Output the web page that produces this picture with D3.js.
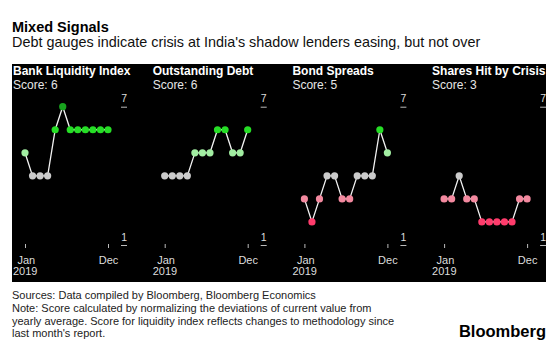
<!DOCTYPE html>
<html>
<head>
<meta charset="utf-8">
<script src="https://cdn.jsdelivr.net/npm/d3@7"></script>
<style>
  body { margin: 0; background: #fff; }
  svg text { font-family: "Liberation Sans", Arial, Helvetica, sans-serif; }
</style>
</head>
<body>
<svg id="chart" width="560" height="351"></svg>
<script>
// Data
const months = ["Jan", "Feb", "Mar", "Apr", "May", "Jun", "Jul", "Aug", "Sep", "Oct", "Nov", "Dec"];
const panelTitles = ["Bank Liquidity Index", "Outstanding Debt", "Bond Spreads", "Shares Hit by Crisis"];
const scores = [6, 6, 5, 3];
const bankLiquidity = [5, 4, 4, 4, 6, 7, 6, 6, 6, 6, 6, 6];
const outstandingDebt = [4, 4, 4, 4, 5, 5, 5, 6, 6, 5, 5, 6];
const bondSpreads = [3, 2, 3, 4, 4, 3, 3, 4, 4, 4, 6, 5];
const sharesHit = [3, 3, 4, 3, 3, 2, 2, 2, 2, 2, 3, 3];
const yTicks = [1, 7];
const xTickYear = "2019";

const series = [bankLiquidity, outstandingDebt, bondSpreads, sharesHit];

const title = "Mixed Signals";
const subtitle = "Debt gauges indicate crisis at India's shadow lenders easing, but not over";
const footnotes = [
    "Sources: Data compiled by Bloomberg, Bloomberg Economics",
    "Note: Score calculated by normalizing the deviations of current value from",
    "yearly average. Score for liquidity index reflects changes to methodology since",
    "last month's report."
];

// Colour per score level
const scoreColor = d3.scaleOrdinal()
    .domain([1, 2, 3, 4, 5, 6, 7])
    .range(["#d1103f", "#ff3c6c", "#f3899f", "#cbcbcb", "#a2eea2", "#26de26", "#18a31e"]);

const svg = d3.select('#chart');

// Header
svg.append('text')
    .attr('x', 12).attr('y', 32)
    .attr('font-size', 14.5).attr('font-weight', 'bold')
    .attr('fill', '#000')
    .text(title);

svg.append('text')
    .attr('x', 12).attr('y', 47)
    .attr('font-size', 14.4)
    .attr('fill', '#111')
    .text(subtitle);

// Black panel background
svg.append('rect')
    .attr('x', 12).attr('y', 64)
    .attr('width', 534).attr('height', 218)
    .attr('fill', '#000');

// Scales
const panelStep = 139.7;
const x = d3.scaleLinear().domain([0, months.length - 1]).range([12, 95]);
const y = d3.scaleLinear().domain([1, 7]).range([245, 106.7]);

const line = d3.line()
    .x((d, i) => x(i))
    .y(d => y(d));

series.forEach((values, p) => {
    const g = svg.append('g')
        .attr('transform', `translate(${13 + p * panelStep},0)`);

    g.append('text')
        .attr('x', 0).attr('y', 75)
        .attr('font-size', 12).attr('font-weight', 'bold')
        .attr('fill', '#fff')
        .text(panelTitles[p]);

    g.append('text')
        .attr('x', 0).attr('y', 89)
        .attr('font-size', 12)
        .attr('fill', '#e6e6e6')
        .text(`Score: ${scores[p]}`);

    // y axis on the right, labels sit above the short ticks
    const yAxis = g.append('g')
        .attr('transform', 'translate(114,0)')
        .call(d3.axisLeft(y).tickValues(yTicks).tickSize(6).tickFormat(d3.format('d')));
    yAxis.select('.domain').remove();
    yAxis.selectAll('line').attr('stroke', '#bbb');
    yAxis.selectAll('text')
        .attr('x', 0).attr('dy', -5)
        .attr('text-anchor', 'end')
        .attr('fill', '#ddd')
        .attr('font-size', 10.5);

    // x axis
    const xAxis = g.append('g')
        .attr('transform', 'translate(0,244)')
        .call(d3.axisBottom(x).tickValues([0, months.length - 1]).tickSize(4)
            .tickFormat(i => months[i]));
    xAxis.select('.domain').remove();
    xAxis.selectAll('line').attr('stroke', '#bbb');
    xAxis.selectAll('text')
        .attr('y', 20).attr('dy', 0)
        .attr('fill', '#ddd')
        .attr('font-size', 11);
    xAxis.selectAll('.tick').filter(i => i === 0).select('text')
        .attr('text-anchor', 'start')
        .attr('x', -8);
    xAxis.append('text')
        .attr('x', x(0) - 12).attr('y', 31)
        .attr('text-anchor', 'start')
        .attr('fill', '#ddd')
        .attr('font-size', 11)
        .text(xTickYear);

    g.append('path')
        .datum(values)
        .attr('fill', 'none')
        .attr('stroke', '#f2f2f2')
        .attr('stroke-width', 1.3)
        .attr('d', line);

    g.selectAll('.dot')
        .data(values)
        .join('circle')
        .attr('class', 'dot')
        .attr('cx', (d, i) => x(i))
        .attr('cy', d => y(d))
        .attr('r', 3.6)
        .attr('fill', d => scoreColor(d));
});

// Footer
footnotes.forEach((t, i) => {
    svg.append('text')
        .attr('x', 12).attr('y', 299 + i * 12.8)
        .attr('font-size', 11)
        .attr('fill', '#222')
        .text(t);
});

svg.append('text')
    .attr('x', 546).attr('y', 337)
    .attr('text-anchor', 'end')
    .attr('font-size', 16.5).attr('font-weight', 'bold')
    .attr('fill', '#000')
    .text('Bloomberg');
</script>
</body>
</html>
